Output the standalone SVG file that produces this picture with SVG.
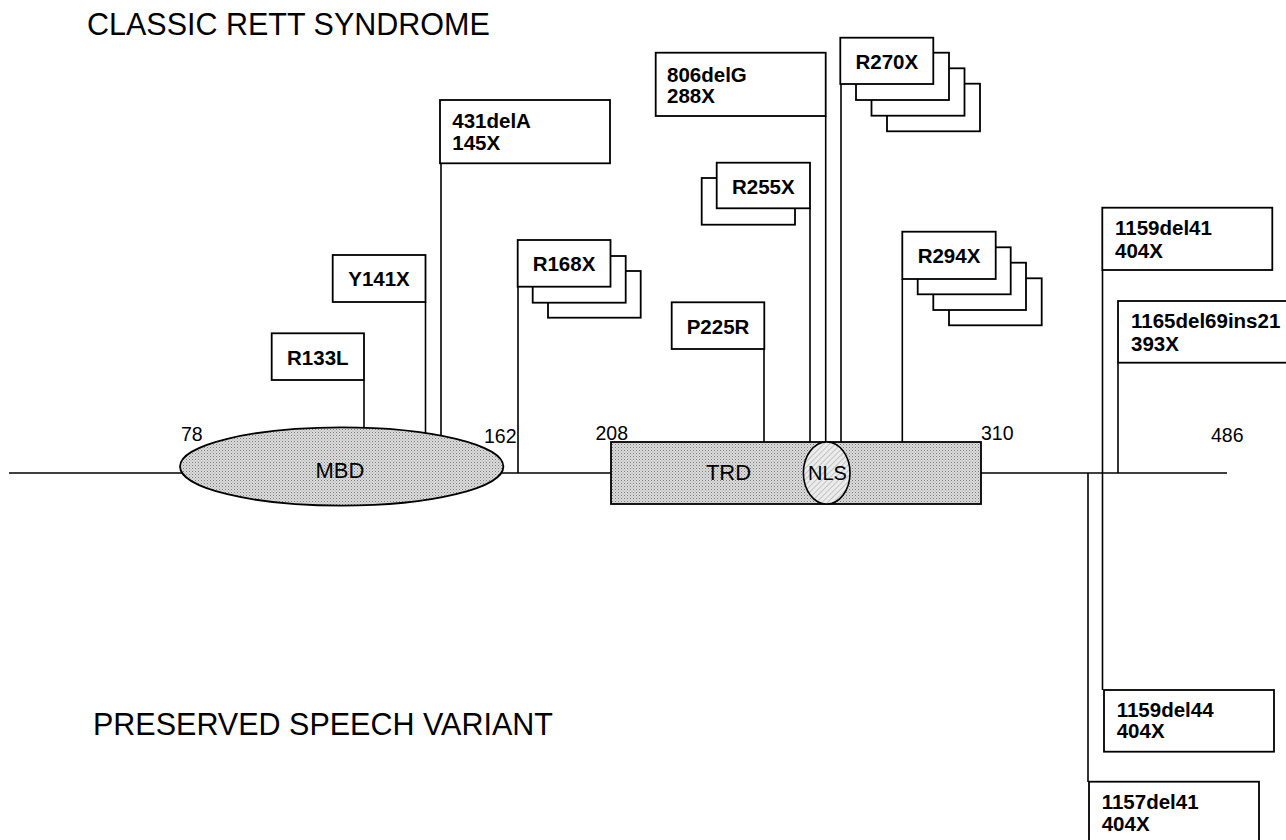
<svg xmlns="http://www.w3.org/2000/svg" width="1286" height="840" viewBox="0 0 1286 840">
<style>
.ln{stroke:#000;stroke-width:1.6;fill:none}
.bx{fill:#fff;stroke:#000;stroke-width:1.8}
.lb{font-family:"Liberation Sans",Arial,sans-serif;font-weight:bold;font-size:20.5px;fill:#000}
.num{font-family:"Liberation Sans",Arial,sans-serif;font-size:19.5px;fill:#000}
.dom{font-family:"Liberation Sans",Arial,sans-serif;font-size:22px;fill:#000}
.ttl{font-family:"Liberation Sans",Arial,sans-serif;font-size:30.5px;fill:#000}
</style>
<defs>
<pattern id="stip" width="3" height="3" patternUnits="userSpaceOnUse">
<rect width="3" height="3" fill="#dcdcdc"/>
<rect x="0" y="0" width="1" height="1" fill="#7a7a7a"/>
<rect x="1.5" y="1.5" width="1" height="1" fill="#9a9a9a"/>
</pattern>
<pattern id="hatch" width="4" height="4" patternUnits="userSpaceOnUse" patternTransform="rotate(45)">
<rect width="4" height="4" fill="#ececec"/>
<line x1="0" y1="0" x2="0" y2="4" stroke="#9a9a9a" stroke-width="1"/>
</pattern>
</defs>
<rect width="1286" height="840" fill="#fff"/>
<text class="ttl" x="87" y="35">CLASSIC RETT SYNDROME</text>
<text class="ttl" x="93" y="735">PRESERVED SPEECH VARIANT</text>

<g id="connectors">
<line class="ln" x1="9" y1="473" x2="1227" y2="473"/>
<line class="ln" x1="364" y1="380" x2="364" y2="430"/>
<line class="ln" x1="425.5" y1="302" x2="425.5" y2="435"/>
<line class="ln" x1="441" y1="163" x2="441" y2="437"/>
<line class="ln" x1="518" y1="287" x2="518" y2="473"/>
<line class="ln" x1="764" y1="349" x2="764" y2="442"/>
<line class="ln" x1="810" y1="208" x2="810" y2="442"/>
<line class="ln" x1="825.7" y1="116" x2="825.7" y2="442"/>
<line class="ln" x1="841" y1="84" x2="841" y2="442"/>
<line class="ln" x1="902.3" y1="279" x2="902.3" y2="442"/>
<line class="ln" x1="1102.5" y1="270" x2="1102.5" y2="690"/>
<line class="ln" x1="1118" y1="362.7" x2="1118" y2="473"/>
<line class="ln" x1="1088" y1="473" x2="1088" y2="782"/>
</g>

<g id="MBD">
<ellipse cx="341.7" cy="466.5" rx="161.7" ry="39.2" fill="url(#stip)" stroke="#000" stroke-width="1.8"/>
<text class="dom" x="340" y="477.7" text-anchor="middle">MBD</text>
</g>
<g id="TRD">
<rect x="611" y="442" width="370" height="62" fill="url(#stip)" stroke="#000" stroke-width="1.8"/>
<text class="dom" x="728.5" y="480" text-anchor="middle">TRD</text>
</g>
<g id="NLS">
<ellipse cx="826.7" cy="473" rx="23.3" ry="31" fill="url(#hatch)" stroke="#000" stroke-width="1.6"/>
<text class="dom" x="827.5" y="480" text-anchor="middle" style="font-size:20px">NLS</text>
</g>

<g id="positions">
<text class="num" x="181" y="440.7">78</text>
<text class="num" x="484" y="443">162</text>
<text class="num" x="595.5" y="440">208</text>
<text class="num" x="981" y="440">310</text>
<text class="num" x="1211" y="441.7">486</text>
</g>

<g id="R133L">
<rect class="bx" x="271.7" y="333.3" width="92.3" height="46.7"/>
<text class="lb" x="317.8" y="364.5" text-anchor="middle">R133L</text>
</g>
<g id="Y141X">
<rect class="bx" x="332.7" y="255" width="92.8" height="47"/>
<text class="lb" x="379" y="286.3" text-anchor="middle">Y141X</text>
</g>
<g id="n431delA">
<rect class="bx" x="440" y="100" width="170" height="63.3"/>
<text class="lb" x="452.3" y="128">431delA</text>
<text class="lb" x="452.3" y="150">145X</text>
</g>
<g id="R168X">
<rect class="bx" x="548" y="271" width="92.7" height="46.7"/>
<rect class="bx" x="532.7" y="256" width="93" height="46.7"/>
<rect class="bx" x="517.7" y="240" width="92.8" height="46.7"/>
<text class="lb" x="564" y="271.3" text-anchor="middle">R168X</text>
</g>
<g id="P225R">
<rect class="bx" x="671.7" y="302.3" width="92.6" height="46.7"/>
<text class="lb" x="718" y="333.7" text-anchor="middle">P225R</text>
</g>
<g id="R255X">
<rect class="bx" x="701.7" y="178" width="93.3" height="46.7"/>
<rect class="bx" x="716.7" y="162.7" width="93.3" height="45.6"/>
<text class="lb" x="763.3" y="193.5" text-anchor="middle">R255X</text>
</g>
<g id="n806delG">
<rect class="bx" x="655.7" y="52.7" width="170" height="63.3"/>
<text class="lb" x="667" y="81.7">806delG</text>
<text class="lb" x="667" y="102.7">288X</text>
</g>
<g id="R270X">
<rect class="bx" x="887" y="83.7" width="93" height="47.6"/>
<rect class="bx" x="871.5" y="68.3" width="93" height="47.4"/>
<rect class="bx" x="856" y="52.7" width="93" height="47.3"/>
<rect class="bx" x="840.3" y="37.7" width="93" height="46.3"/>
<text class="lb" x="886.8" y="68.5" text-anchor="middle">R270X</text>
</g>
<g id="R294X">
<rect class="bx" x="949" y="278.3" width="92.7" height="47"/>
<rect class="bx" x="933.3" y="262.7" width="92.7" height="47.3"/>
<rect class="bx" x="917.7" y="247.3" width="93" height="47"/>
<rect class="bx" x="902.3" y="231.7" width="93.4" height="47.3"/>
<text class="lb" x="949" y="263" text-anchor="middle">R294X</text>
</g>
<g id="n1159del41">
<rect class="bx" x="1102.3" y="207.7" width="170" height="62.3"/>
<text class="lb" x="1115" y="235">1159del41</text>
<text class="lb" x="1115" y="258">404X</text>
</g>
<g id="n1165del69ins21">
<rect class="bx" x="1118" y="301" width="172" height="61.7"/>
<text class="lb" x="1131" y="328.3">1165del69ins21</text>
<text class="lb" x="1131" y="350.7">393X</text>
</g>
<g id="n1159del44">
<rect class="bx" x="1104" y="690" width="170" height="61.7"/>
<text class="lb" x="1116.7" y="717.3">1159del44</text>
<text class="lb" x="1116.7" y="738.3">404X</text>
</g>
<g id="n1157del41">
<rect class="bx" x="1089" y="781.7" width="170" height="64"/>
<text class="lb" x="1101.7" y="809.3">1157del41</text>
<text class="lb" x="1101.7" y="830.7">404X</text>
</g>
</svg>
